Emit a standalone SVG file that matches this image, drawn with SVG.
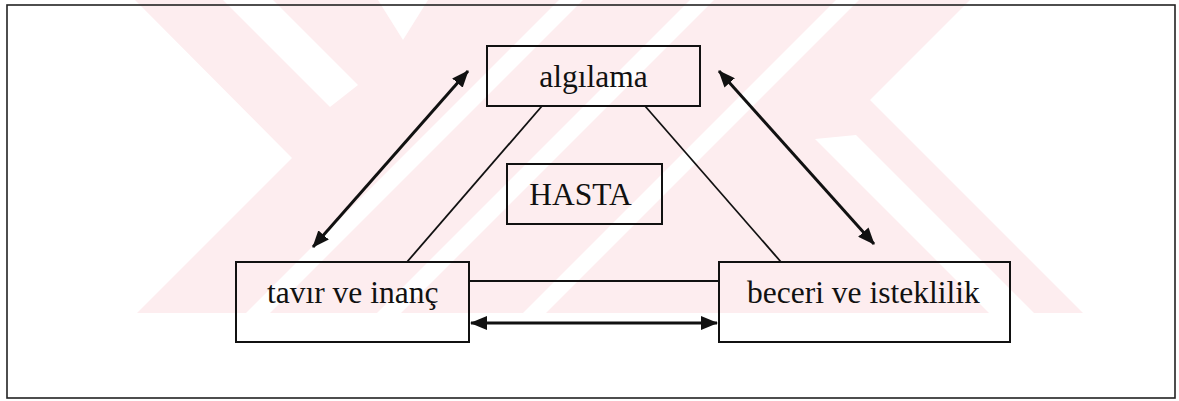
<svg xmlns="http://www.w3.org/2000/svg" width="1179" height="401" viewBox="0 0 1179 401">
  <defs>
    <style>
      .wm { fill: #fdedef; }
      .wmcut { fill: #ffffff; }
      .box { fill: none; stroke: #111; stroke-width: 2; }
      .label { font-family: "Liberation Serif", "Times New Roman", serif; font-size: 31.5px; fill: #111; }
      .link { stroke: #111; stroke-width: 1.8; fill: none; }
      .arrow { stroke: #111; stroke-width: 3; fill: none; marker-start: url(#head); marker-end: url(#head); }
    </style>
    <marker id="head" viewBox="0 0 17 14" refX="16" refY="7" markerWidth="17" markerHeight="14" markerUnits="userSpaceOnUse" orient="auto-start-reverse">
      <path d="M0,0 L17,7 L0,14 z" fill="#111"/>
    </marker>
  </defs>
  <rect width="1179" height="401" fill="#ffffff"/>

  <!-- background watermark -->
  <g id="watermark">
    <polygon class="wm" points="135,0 970,0 870,100 1083,313 137,313 292,158"/>
    <polygon class="wmcut" points="223,0 273,0 358,85 330,107"/>
    <polygon class="wmcut" points="378,0 428,0 403,40"/>
    <polygon class="wmcut" points="559,0 583,0 270,313 246,313"/>
    <polygon class="wmcut" points="690,0 714,0 401,313 377,313"/>
    <polygon class="wmcut" points="836,0 859,0 546,313 523,313"/>
    <polygon class="wmcut" points="815,139 856,135 1034,313 989,313"/>
  </g>

  <!-- outer frame -->
  <rect x="7" y="5" width="1168" height="393" fill="none" stroke="#222" stroke-width="1.6"/>

  <!-- connectors -->
  <g id="connectors">
    <line class="link" x1="542" y1="106" x2="407" y2="262"/>
    <line class="link" x1="645" y1="106" x2="781" y2="262"/>
    <line class="link" x1="469" y1="281" x2="719" y2="281"/>
    <line class="arrow" x1="471" y1="323" x2="717" y2="323"/>
    <line class="arrow" x1="313" y1="247" x2="468" y2="71"/>
    <line class="arrow" x1="719" y1="71" x2="874" y2="244"/>
  </g>

  <!-- nodes -->
  <g id="node-algilama">
    <rect class="box" x="487" y="46" width="213" height="60"/>
    <text class="label" x="593.5" y="87" text-anchor="middle">algılama</text>
  </g>
  <g id="node-hasta">
    <rect class="box" x="507" y="164" width="155" height="60"/>
    <text class="label" x="580.5" y="205" text-anchor="middle">HASTA</text>
  </g>
  <g id="node-tavir">
    <rect class="box" x="236" y="262" width="233" height="80"/>
    <text class="label" x="267" y="303">tavır ve inanç</text>
  </g>
  <g id="node-beceri">
    <rect class="box" x="719" y="262" width="291" height="80"/>
    <text class="label" x="747" y="303">beceri ve isteklilik</text>
  </g>
</svg>
